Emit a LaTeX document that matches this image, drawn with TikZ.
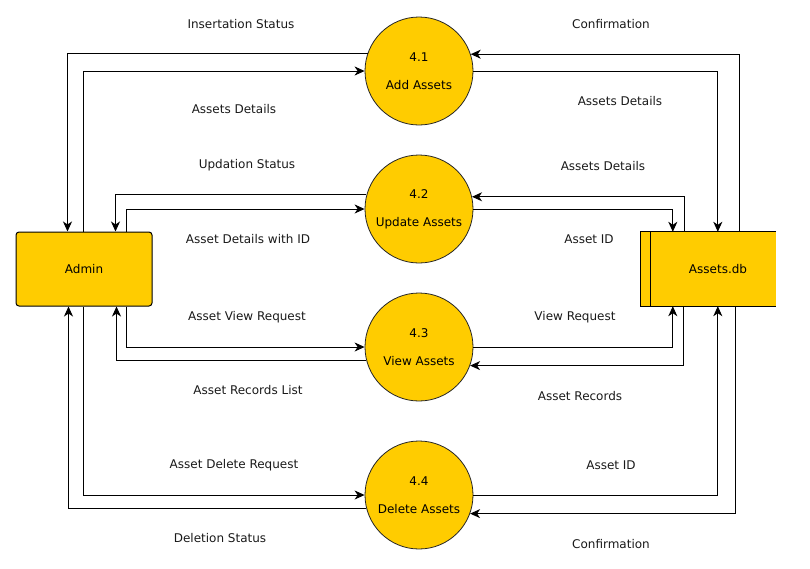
\documentclass[tikz,border=0pt]{standalone}
\usepackage{fontspec}
\setmainfont{DejaVu Sans}
\usetikzlibrary{arrows.meta}
\definecolor{gold}{HTML}{FFCC00}
\begin{document}
\begin{tikzpicture}[x=1pt,y=-1pt, font=\fontsize{12}{14.4}\selectfont,
  flow/.style={draw=black, line width=1pt, -{Stealth[length=10pt,width=9pt,inset=3pt]}},
  proc/.style={circle, draw=black!85, line width=0.8pt, fill=gold, minimum size=108pt, inner sep=0pt, align=center},
  lbl/.style={inner sep=0pt, text=black!90}]
\useasboundingbox (0,0) rectangle (810,568);
% processes
\node[proc] (p1) at (419,71) {4.1\\[13.6pt]Add Assets};
\node[proc] (p2) at (419,209) {4.2\\[13.6pt]Update Assets};
\node[proc] (p3) at (419,347) {4.3\\[13.6pt]View Assets};
\node[proc] (p4) at (419,495) {4.4\\[13.6pt]Delete Assets};
% entity
\node[draw=black, line width=1pt, rounded corners=3pt, fill=gold, minimum width=136pt, minimum height=74pt] (admin) at (84,269) {Admin};
% data store
\node[fill=gold, minimum width=135pt, minimum height=74pt, inner sep=0pt] (db) at (708.5,269) {};
\draw[line width=1pt] (db.north east) -- (db.north west) -- (db.south west) -- (db.south east);
\draw[line width=1pt] ([xshift=10pt]db.north west) -- ([xshift=10pt]db.south west);
\node (dbt) at (718,269) {Assets.db};
% left flows
\draw[flow] (p1.161.65) -| ([xshift=52pt]admin.north west);
\draw[flow] ([xshift=68pt]admin.north west) |- (p1.west);
\draw[flow] (p2.165) -| ([xshift=100pt]admin.north west);
\draw[flow] ([xshift=111pt]admin.north west) |- (p2.west);
\draw[flow] ([xshift=111pt]admin.south west) |- (p3.west);
\draw[flow] (p3.194) -| ([xshift=101pt]admin.south west);
\draw[flow] ([xshift=68pt]admin.south west) |- (p4.west);
\draw[flow] (p4.194) -| ([xshift=53pt]admin.south west);
% right flows
\draw[flow] ([xshift=99pt]db.north west) |- (p1.18.35);
\draw[flow] (p1.east) -| ([xshift=77pt]db.north west);
\draw[flow] ([xshift=44pt]db.north west) |- (p2.13.9);
\draw[flow] (p2.east) -| ([xshift=32pt]db.north west);
\draw[flow] (p3.east) -| ([xshift=32pt]db.south west);
\draw[flow] ([xshift=43pt]db.south west) |- (p3.-20.6);
\draw[flow] (p4.east) -| ([xshift=77pt]db.south west);
\draw[flow] ([xshift=95pt]db.south west) |- (p4.-20.6);
% labels
\node[lbl] (l1) at (241,24) {Insertation Status};
\node[lbl] (l2) at (234,109) {Assets Details};
\node[lbl] (l3) at (247,165) {Updation Status};
\node[lbl] (l4) at (248,239.5) {Asset Details with ID};
\node[lbl] (l5) at (247,317.5) {Asset View Request};
\node[lbl] (l6) at (248,390.5) {Asset Records List};
\node[lbl] (l7) at (234,465.5) {Asset Delete Request};
\node[lbl] (l8) at (220,538.5) {Deletion Status};
\node[lbl] (l9) at (611,24) {Confirmation};
\node[lbl] (l10) at (620,101.5) {Assets Details};
\node[lbl] (l11) at (603,166) {Assets Details};
\node[lbl] (l12) at (589,239.5) {Asset ID};
\node[lbl] (l13) at (575,317.5) {View Request};
\node[lbl] (l14) at (580,396.5) {Asset Records};
\node[lbl] (l15) at (611,465.5) {Asset ID};
\node[lbl] (l16) at (611,544) {Confirmation};
\end{tikzpicture}
\end{document}
